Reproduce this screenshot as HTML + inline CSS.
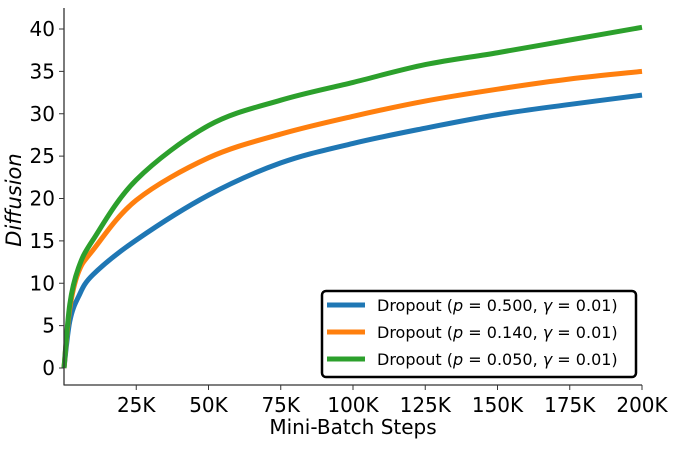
<!DOCTYPE html>
<html><head><meta charset="utf-8"><style>
body{margin:0;background:#fff}
svg text{font-family:"DejaVu Sans","Liberation Sans",sans-serif;fill:#000}
</style></head><body>
<svg id="chart" width="676" height="444" viewBox="0 0 676 444" xmlns="http://www.w3.org/2000/svg">
<g id="grid"></g>
<g id="series"></g>
<g id="axes"></g>
<g id="legend">
<rect x="322" y="291" width="314" height="86" rx="4" fill="#fff" stroke="#000" stroke-width="2.5"/>
<line x1="327" y1="305" x2="365" y2="305" stroke="#1f77b4" stroke-width="5"/>
<text x="377" y="311" font-size="16">Dropout (<tspan font-style="italic">p</tspan> = 0.500, <tspan font-style="italic">γ</tspan> = 0.01)</text>
<line x1="327" y1="332" x2="365" y2="332" stroke="#ff7f0e" stroke-width="5"/>
<text x="377" y="338" font-size="16">Dropout (<tspan font-style="italic">p</tspan> = 0.140, <tspan font-style="italic">γ</tspan> = 0.01)</text>
<line x1="327" y1="359" x2="365" y2="359" stroke="#2ca02c" stroke-width="5"/>
<text x="377" y="365" font-size="16">Dropout (<tspan font-style="italic">p</tspan> = 0.050, <tspan font-style="italic">γ</tspan> = 0.01)</text>
</g>
</svg>
<script>
const steps=[0,2,5,10,25,50,75,100,125,150,175,200];
const blue=[0,5.5,8.4,11,15.1,20.4,24.2,26.5,28.3,29.9,31.1,32.2];
const orange=[0,7,11.3,13.9,19.8,24.8,27.6,29.7,31.5,32.9,34.1,35.0];
const green=[0,7.5,11.8,15.1,22.2,28.6,31.6,33.7,35.8,37.2,38.7,40.2];
const xTicks=[25,50,75,100,125,150,175,200];
const yTicks=[0,5,10,15,20,25,30,35,40];
const NS="http://www.w3.org/2000/svg";
const X=v=>64+v*(578/200);
const Y=v=>368-v*8.475;
function mk(t,a,p){const e=document.createElementNS(NS,t);for(const k in a)e.setAttribute(k,a[k]);p.appendChild(e);return e;}
const ax=document.getElementById('axes');
const l1=mk('line',{x1:64,y1:8,x2:64,y2:385,stroke:'#333','stroke-width':1.3},ax);


const l2=mk('line',{x1:63.5,y1:385,x2:642,y2:385,stroke:'#333','stroke-width':1.3},ax);


xTicks.forEach(t=>{
 mk('line',{x1:X(t),y1:385,x2:X(t),y2:390,stroke:'#333','stroke-width':1},ax);
 const tx=mk('text',{x:X(t),y:412,'font-size':20,'text-anchor':'middle'},ax);
 tx.textContent=t+'K';
 
 
});
yTicks.forEach(t=>{
 mk('line',{x1:59,y1:Y(t),x2:64,y2:Y(t),stroke:'#333','stroke-width':1},ax);
 const tx=mk('text',{x:55,y:Y(t)+7,'font-size':20,'text-anchor':'end'},ax);
 tx.textContent=t;
 
 
});
const xt=mk('text',{x:353,y:434,'font-size':20,'text-anchor':'middle'},ax);
xt.textContent='Mini-Batch Steps';


const yt=mk('text',{x:0,y:0,'font-size':21,'text-anchor':'middle','font-style':'italic',transform:'translate(21,200) rotate(-90)'},ax);
yt.textContent='Diffusion';


function path(vals){
 const p=steps.map((s,i)=>[X(s),Y(vals[i])]);
 let d='M'+p[0][0]+','+p[0][1];
 for(let i=0;i<p.length-1;i++){
  const p0=p[Math.max(0,i-1)],p1=p[i],p2=p[i+1],p3=p[Math.min(p.length-1,i+2)];
  const c1=[p1[0]+(p2[0]-p0[0])/6,p1[1]+(p2[1]-p0[1])/6];
  const c2=[p2[0]-(p3[0]-p1[0])/6,p2[1]-(p3[1]-p1[1])/6];
  d+=`C${c1[0]},${c1[1]} ${c2[0]},${c2[1]} ${p2[0]},${p2[1]}`;
 }
 return d;
}
const sg=document.getElementById('series');
[[blue,'#1f77b4','line-p0500'],[orange,'#ff7f0e','line-p0140'],[green,'#2ca02c','line-p0050']].forEach(([v,c,n])=>{
 const e=mk('path',{d:path(v),fill:'none',stroke:c,'stroke-width':5,'stroke-linecap':'butt'},sg);
 
 
});
</script>
</body></html>
